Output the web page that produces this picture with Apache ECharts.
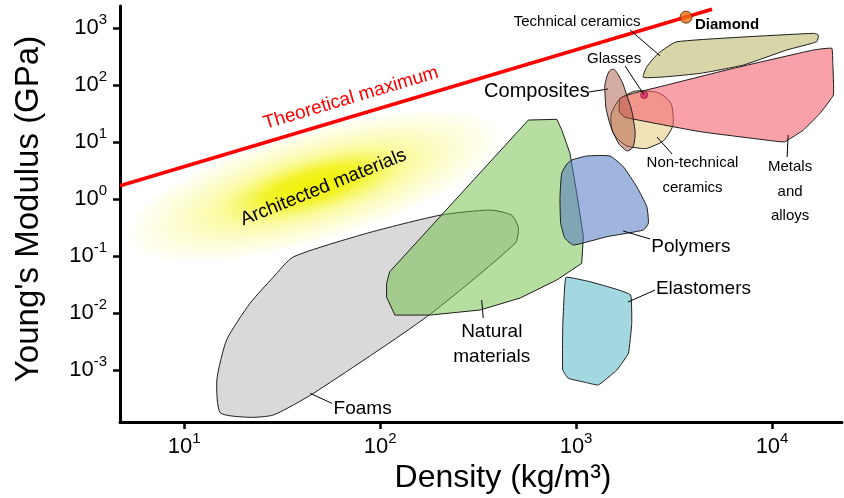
<!DOCTYPE html>
<html>
<head>
<meta charset="utf-8">
<script src="https://cdn.jsdelivr.net/npm/echarts@6/dist/echarts.min.js"></script>
<style>
  html, body { margin: 0; padding: 0; background: #fff; }
  #chart { width: 844px; height: 498px; }
</style>
</head>
<body>
<div id="chart"></div>
<script>
// ---- Axis ranges and decade ticks ----
const densityRange = [4.71, 22750];      // kg/m^3
const modulusRange = [0.0001225, 2432];  // GPa
const densityTicks = [10, 100, 1000, 10000];
const modulusTicks = [0.001, 0.01, 0.1, 1, 10, 100, 1000];

// ---- Material families: outlines as [density kg/m^3, modulus GPa] ----
const foams = [[36,0.096],[85.5,0.25],[202,0.52],[364,0.64],[470,0.52],[508,0.31],[489,0.167],
  [173,0.0086],[45.7,0.00039],[28.6,0.000163],[21.7,0.000148],[15.3,0.000178],[14.7,0.00067],
  [16.5,0.0034],[21.7,0.0148],[28.6,0.043]];
const naturalMaterials = [[571,24.3],[798,25],[846,16.2],[931,6.34],[1008,1.26],[1090,0.218],
  [1069,0.0745],[798,0.038],[518,0.0183],[324,0.0113],[180,0.0092],[119,0.0092],[108,0.019],
  [108,0.0332],[112,0.053]];
const polymers = [[951,4.83],[1135,5.68],[1490,5.68],[1742,3.69],[2040,1.64],[2296,0.733],
  [2339,0.375],[2205,0.286],[1435,0.218],[969,0.156],[878,0.205],[835,0.375],[828,1.1],
  [845,2.82],[897,4.11]];
const elastomers = [[889,0.0423],[1178,0.0354],[1614,0.026],[1901,0.0207],[1924,0.0066],
  [1849,0.00196],[1614,0.001],[1300,0.000546],[1135,0.000599],[914,0.000715],[855,0.001],
  [855,0.00575],[869,0.0193]];
const technicalCeramics = [[2203,136.5],[2295,209],[2630,360],[3266,575],[16260,807],[17230,754],
  [16890,575],[11880,411],[7140,224],[4300,160],[2904,140]];
const metals = [[1675,58.4],[1662,34],[1778,27.1],[4295,15.2],[10990,10.1],[11640,10.1],
  [14450,16.2],[17580,31.9],[20560,66.8],[20420,240],[20180,441],[16260,411],[6350,196],
  [2904,100],[1960,71.5]];
const nonTechnicalCeramics = [[2198,78.5],[2844,61.6],[3126,29.8],[2946,13.3],[2472,8.5],
  [2071,7.85],[1675,10.4],[1510,21.5],[1600,46.4],[1841,69.5]];
const composites = [[1521,188],[1422,122],[1406,66.8],[1456,27.5],[1614,10.8],[1738,7.85],
  [1864,7.1],[1983,10.0],[1963,24.3],[1820,64.1],[1644,150]];

// Architected materials zone: ends of its long axis and a point on its upper rim
const architectedEnds = [[5.0, 0.19], [420, 15.5]];
const architectedRim = [36, 14.5];

// Theoretical maximum stiffness line and single materials
const theoreticalMax = [[4.71, 1.71], [4943, 2130]];
const diamond = [[3640, 1550]];
const glass = [[2225, 67]];

// ---- Annotations ----
const labelTexts = ['Technical ceramics', 'Diamond', 'Glasses', 'Composites',
  'Non-technical\nceramics', 'Metals\nand\nalloys', 'Polymers', 'Elastomers',
  'Natural\nmaterials', 'Foams'];
const labelAt = [[1012,1274],[4045,1130],[1564,286],[631,76.3],[3926,2.55],[12360,1.35],
  [3853,0.146],[4467,0.0271],[371.5,0.00284],[81.5,0.000205]];
const leaderFrom = [[1888,922], null, [1778,215], [1164,75.4], [3090,6.16], [11940,5.46],
  [2388,0.199], [2529,0.0253], [336,0.00817], [56.8,0.00026]];
const leaderTo = [[2686,323], null, [2225,67], [1455,85.1], [2589,12.2], [12080,13.3],
  [1738,0.275], [1841,0.0156], [330,0.0169], [44,0.00039]];
const theoryLabelAt = [75.5, 29.3];
const architectedLabelAt = [51.4, 1.59];

// ---- Styling ----
const FONT = '"Liberation Sans", Arial, Helvetica, sans-serif';
const labelLook = [
  { size: 15 }, { size: 15, weight: 'bold', align: 'left' }, { size: 15 }, { size: 20 },
  { size: 15, lh: 25 }, { size: 15, lh: 24.7 }, { size: 19 }, { size: 19 },
  { size: 19, lh: 25 }, { size: 19 }
];

function regionSeries(name, pts, fill, smooth) {
  return {
    type: 'custom', name, coordinateSystem: 'cartesian2d', data: pts,
    encode: { x: 0, y: 1 }, silent: true,
    renderItem(params, api) {
      if (params.dataIndex !== 0) return null;
      return {
        type: 'polygon',
        shape: { points: pts.map(p => api.coord(p)), smooth },
        style: { fill, stroke: '#1e1e1e', lineWidth: 1 }
      };
    }
  };
}

function powLabel(v) {
  const e = Math.log10(v), r = Math.round(e);
  if (Math.abs(e - r) > 1e-6) return '';
  return '{b|10}{s|' + r + '}';
}
const powRich = {
  b: { fontSize: 22, lineHeight: 22, fontFamily: FONT, color: '#000', verticalAlign: 'bottom' },
  s: { fontSize: 15, lineHeight: 15, fontFamily: FONT, color: '#000', verticalAlign: 'bottom', padding: [0, 0, 12, 0] }
};

const chart = echarts.init(document.getElementById('chart'), null, { renderer: 'canvas' });

chart.setOption({
  backgroundColor: '#fff',
  animation: false,
  textStyle: { fontFamily: FONT },
  grid: { left: 120, right: 2, top: 6, bottom: 76, containLabel: false },
  xAxis: {
    type: 'log', logBase: 10, min: densityRange[0], max: densityRange[1],
    axisLine: { onZero: false, lineStyle: { color: '#000', width: 3 } },
    axisTick: { length: 7, lineStyle: { color: '#000', width: 2.5 }, customValues: densityTicks },
    axisLabel: { formatter: powLabel, rich: powRich, margin: 14, customValues: densityTicks },
    splitLine: { show: false }, minorTick: { show: false }
  },
  yAxis: {
    type: 'log', logBase: 10, min: modulusRange[0], max: modulusRange[1],
    axisLine: { onZero: false, lineStyle: { color: '#000', width: 3 } },
    axisTick: { length: 7, lineStyle: { color: '#000', width: 2.5 }, customValues: modulusTicks },
    axisLabel: { formatter: powLabel, rich: powRich, margin: 13, customValues: modulusTicks },
    splitLine: { show: false }, minorTick: { show: false }
  },
  graphic: [
    { type: 'text', x: 29, y: 209, rotation: Math.PI / 2,
      style: { text: "Young's Modulus (GPa)", fontSize: 33, fontFamily: FONT, fill: '#000', align: 'center', verticalAlign: 'middle' } },
    { type: 'text', x: 503, y: 478,
      style: { text: 'Density (kg/m\u00B3)', fontSize: 32, fontFamily: FONT, fill: '#000', align: 'center', verticalAlign: 'middle' } }
  ],
  series: [
    // soft glow of the architected materials zone
    {
      type: 'custom', name: 'Architected materials', coordinateSystem: 'cartesian2d',
      data: architectedEnds, encode: { x: 0, y: 1 }, silent: true,
      renderItem(params, api) {
        if (params.dataIndex !== 0) return null;
        const a = api.coord(architectedEnds[0]), b = api.coord(architectedEnds[1]);
        const r = api.coord(architectedRim);
        const dx = b[0] - a[0], dy = b[1] - a[1];
        const len = Math.hypot(dx, dy), half = len / 2;
        const width = Math.abs((r[0] - a[0]) * dy - (r[1] - a[1]) * dx) / len;
        return {
          type: 'circle',
          x: (a[0] + b[0]) / 2, y: (a[1] + b[1]) / 2,
          rotation: Math.atan2(-dy, dx), scaleX: 1, scaleY: width / half,
          shape: { cx: 0, cy: 0, r: half },
          style: {
            fill: new echarts.graphic.RadialGradient(0.5, 0.5, 0.5, [
              { offset: 0, color: 'rgba(240,240,0,1)' },
              { offset: 0.25, color: 'rgba(242,242,25,0.92)' },
              { offset: 0.5, color: 'rgba(247,247,100,0.6)' },
              { offset: 0.78, color: 'rgba(251,251,170,0.42)' },
              { offset: 0.93, color: 'rgba(253,253,205,0.28)' },
              { offset: 1, color: 'rgba(255,255,240,0)' }
            ])
          }
        };
      }
    },
    regionSeries('Foams', foams, '#d9d9d9', 0.2),
    regionSeries('Natural materials', naturalMaterials, 'rgba(107,189,65,0.5)', 0),
    regionSeries('Polymers', polymers, 'rgba(82,120,193,0.55)', 0.15),
    regionSeries('Elastomers', elastomers, '#a3d8e0', 0.1),
    regionSeries('Technical ceramics', technicalCeramics, 'rgba(190,187,110,0.6)', 0.15),
    regionSeries('Non-technical ceramics', nonTechnicalCeramics, 'rgba(229,195,111,0.5)', 0.5),
    regionSeries('Metals and alloys', metals, 'rgba(245,98,110,0.6)', 0.1),
    regionSeries('Composites', composites, 'rgba(171,89,69,0.5)', 0.5),
    {
      type: 'line', name: 'Theoretical maximum', data: theoreticalMax, silent: true,
      symbol: 'none', lineStyle: { color: '#ff0000', width: 3.5 }, z: 5
    },
    {
      type: 'scatter', name: 'Glasses', data: glass, silent: true, symbolSize: 7,
      itemStyle: { color: '#e8266e', borderColor: '#5a0a20', borderWidth: 0.8 }, z: 6
    },
    {
      type: 'scatter', name: 'Diamond', data: diamond, silent: true, symbolSize: 12,
      itemStyle: { color: '#ec6b12', borderColor: '#4a2000', borderWidth: 1 }, z: 6
    },
    // family labels with leader lines
    {
      type: 'custom', name: 'labels', coordinateSystem: 'cartesian2d', data: labelAt,
      encode: { x: 0, y: 1 }, silent: true, z: 7, clip: false,
      renderItem(params, api) {
        const i = params.dataIndex, look = labelLook[i];
        const p = api.coord(labelAt[i]);
        const children = [];
        if (leaderFrom[i]) {
          const a = api.coord(leaderFrom[i]), b = api.coord(leaderTo[i]);
          children.push({ type: 'line', shape: { x1: a[0], y1: a[1], x2: b[0], y2: b[1] },
            style: { stroke: '#000', lineWidth: 1 } });
        }
        children.push({ type: 'text', x: p[0], y: p[1], style: {
          text: labelTexts[i], fill: '#000', fontSize: look.size, fontFamily: FONT,
          fontWeight: look.weight || 'normal', align: look.align || 'center',
          verticalAlign: 'middle', lineHeight: look.lh || look.size } });
        return { type: 'group', children };
      }
    },
    // rotated zone labels
    {
      type: 'custom', name: 'zone labels', coordinateSystem: 'cartesian2d',
      data: [theoryLabelAt, architectedLabelAt], encode: { x: 0, y: 1 }, silent: true, z: 7,
      renderItem(params, api) {
        if (params.dataIndex === 0) {
          const a = api.coord(theoreticalMax[0]), b = api.coord(theoreticalMax[1]);
          const p = api.coord(theoryLabelAt);
          return { type: 'text', x: p[0], y: p[1], rotation: Math.atan2(a[1] - b[1], b[0] - a[0]),
            style: { text: 'Theoretical maximum', x: 0, y: -8.6, fill: '#ff0000', fontSize: 19,
              fontFamily: FONT, align: 'center', verticalAlign: 'bottom' } };
        }
        const p = api.coord(architectedLabelAt);
        return { type: 'text', x: p[0], y: p[1], rotation: 22 * Math.PI / 180,
          style: { text: 'Architected materials', fill: '#000', fontSize: 19, fontFamily: FONT,
            align: 'center', verticalAlign: 'middle' } };
      }
    }
  ]
});
</script>
</body>
</html>
